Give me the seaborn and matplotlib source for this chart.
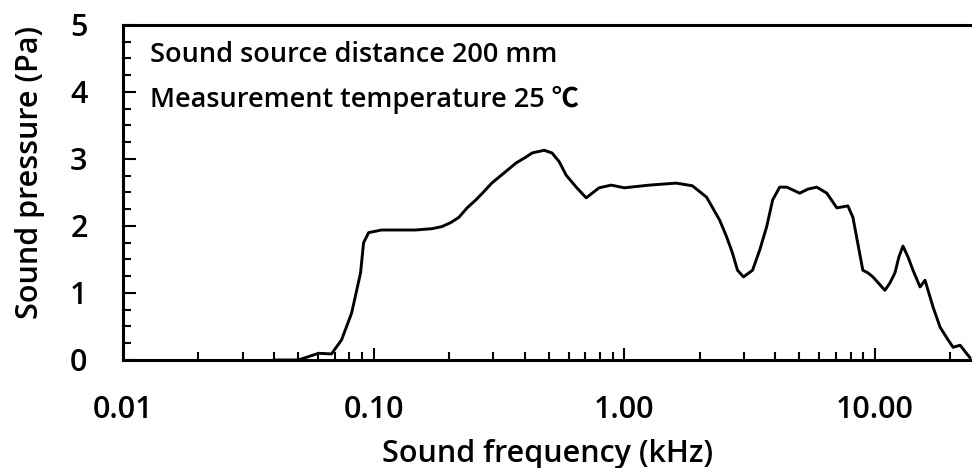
import matplotlib
matplotlib.use("Agg")
import matplotlib.pyplot as plt
import matplotlib.ticker as mticker
import numpy as np
import pandas as pd
import seaborn as sns

# Frequency response of the sound source (kHz vs Pa)
freq_khz = [0.040, 0.0501, 0.0603, 0.0679, 0.0745, 0.0817, 0.0887, 0.0912, 0.0955,
            0.0982, 0.1076, 0.126, 0.147, 0.171, 0.187, 0.203, 0.219, 0.236, 0.256,
            0.275, 0.296, 0.331, 0.370, 0.406, 0.429, 0.479, 0.515, 0.550, 0.586,
            0.643, 0.705, 0.745, 0.794, 0.887, 1.00, 1.26, 1.61, 1.87, 2.13, 2.40,
            2.56, 2.70, 2.83, 2.99, 3.25, 3.47, 3.70, 3.91, 4.17, 4.45, 5.01, 5.40,
            5.86, 6.43, 7.05, 7.80, 8.17, 8.95, 9.38, 9.82, 10.96, 11.48, 12.02,
            12.47, 12.94, 13.55, 14.19, 15.14, 15.85, 17.06, 18.20, 19.59, 20.51,
            21.88, 23.99]
pressure_pa = [0.0, 0.0, 0.10, 0.09, 0.30, 0.70, 1.30, 1.75, 1.90,
               1.91, 1.94, 1.94, 1.94, 1.96, 1.99, 2.05, 2.13, 2.27, 2.39,
               2.51, 2.64, 2.79, 2.94, 3.03, 3.09, 3.13, 3.09, 2.96, 2.76,
               2.58, 2.42, 2.49, 2.57, 2.61, 2.57, 2.61, 2.64, 2.60, 2.43, 2.09,
               1.84, 1.60, 1.34, 1.24, 1.34, 1.64, 1.99, 2.39, 2.58, 2.58, 2.49, 2.55,
               2.58, 2.49, 2.27, 2.30, 2.13, 1.34, 1.30, 1.24, 1.04, 1.15, 1.30,
               1.54, 1.70, 1.54, 1.34, 1.09, 1.19, 0.79, 0.49, 0.30, 0.19,
               0.22, 0.03]

x_ticks = [0.01, 0.1, 1, 10]
x_tick_labels = ["0.01", "0.10", "1.00", "10.00"]
y_ticks = [0, 1, 2, 3, 4, 5]
notes = ["Sound source distance 200 mm", "Measurement temperature 25 \u2103"]

sns.set_theme(style="white")
plt.rcParams["font.family"] = ["Open Sans", "Noto Sans CJK JP", "DejaVu Sans"]
plt.rcParams["font.weight"] = "semibold"
plt.rcParams["axes.labelweight"] = "semibold"

fig = plt.figure(figsize=(9.72, 4.68), dpi=100)
ax = fig.add_axes([0.1265, 0.2308, 0.8735, 0.7158])

df = pd.DataFrame({"freq": freq_khz, "pressure": pressure_pa})
sns.lineplot(data=df, x="freq", y="pressure", ax=ax, color="black",
             linewidth=2.1, sort=False)

ax.set_xscale("log")
ax.set_xlim(0.01, 24.4)
ax.set_ylim(0, 5)

ax.set_xticks(x_ticks)
ax.set_xticklabels(x_tick_labels)
ax.xaxis.set_minor_locator(mticker.LogLocator(base=10, subs=np.arange(2, 10)))
ax.xaxis.set_minor_formatter(mticker.NullFormatter())
ax.set_yticks(y_ticks)
ax.yaxis.set_minor_locator(mticker.MultipleLocator(0.25))

ax.tick_params(axis="both", which="major", direction="in", length=9, width=1.5,
               color="black", labelsize=22, pad=25.5, labelcolor="black")
ax.tick_params(axis="both", which="minor", direction="in", length=6, width=1.5,
               color="black")
ax.tick_params(axis="y", which="both", left=True)
ax.tick_params(axis="x", which="both", bottom=True)

for side in ["left", "bottom", "top"]:
    ax.spines[side].set_visible(True)
    ax.spines[side].set_color("black")
    ax.spines[side].set_linewidth(2.2)
ax.spines["right"].set_visible(False)

ax.set_xlabel("Sound frequency (kHz)", fontsize=22, color="black")
ax.set_ylabel("Sound pressure (Pa)", fontsize=22, color="black")
ax.xaxis.set_label_coords(0.5, -0.236)
ax.yaxis.set_label_coords(-0.092, 0.561)

for i, t in enumerate(notes):
    ax.text(0.032, 0.952 - i * 0.135, t, transform=ax.transAxes, fontsize=19.5,
            color="black", va="top", ha="left")

fig.savefig("out.png", dpi=100)
